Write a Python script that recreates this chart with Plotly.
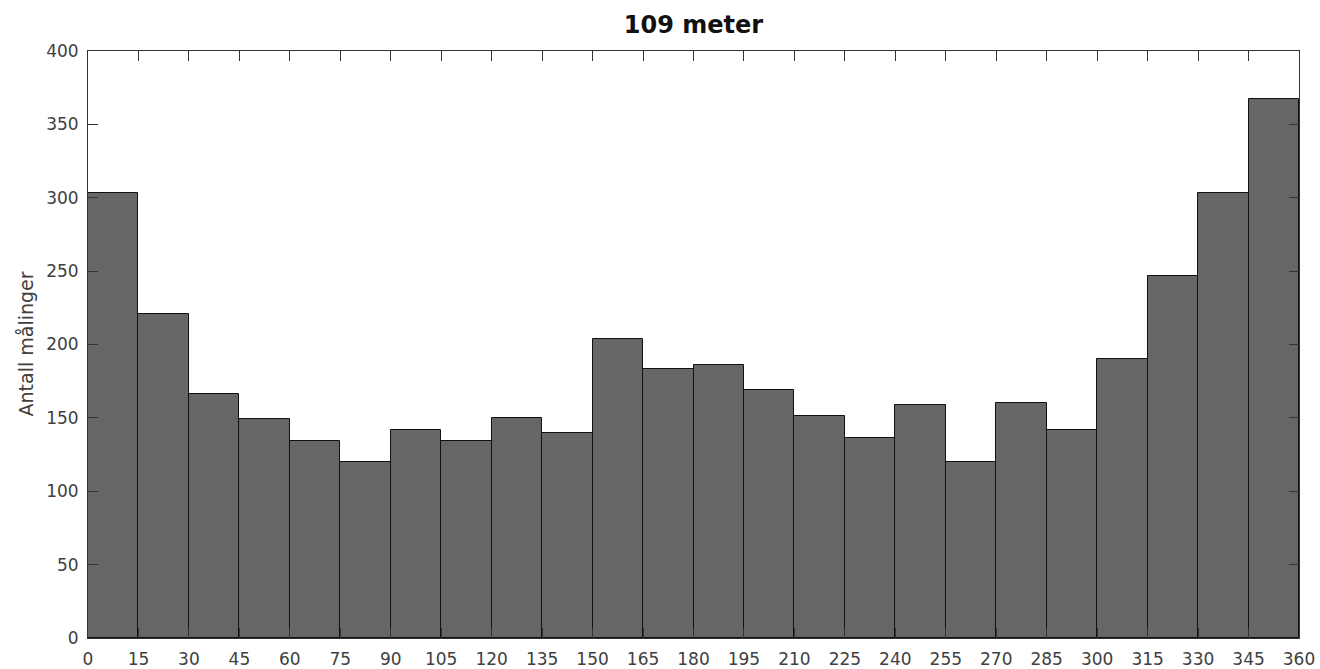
import plotly.graph_objects as go

# Data: wind direction bins (degrees) and number of measurements
bin_left = [0, 15, 30, 45, 60, 75, 90, 105, 120, 135, 150, 165,
            180, 195, 210, 225, 240, 255, 270, 285, 300, 315, 330, 345]
bin_width = 15
counts = [303, 221, 166, 149, 134, 120, 142, 134, 150, 140, 204, 183,
          186, 169, 151, 136, 159, 120, 160, 142, 190, 247, 303, 367]
x_ticks = list(range(0, 361, 15))
y_ticks = list(range(0, 401, 50))

title_text = "109 meter"
y_title = "Antall målinger"

fig = go.Figure()
fig.add_trace(go.Bar(
    x=bin_left,
    y=counts,
    width=bin_width,
    offset=0,
    marker=dict(color="#666666", line=dict(color="#111111", width=1)),
    hoverinfo="x+y",
))

axis_common = dict(
    showline=True, linecolor="#333333", linewidth=1, mirror="ticks",
    ticks="inside", ticklen=10, tickwidth=1, tickcolor="#333333",
    showgrid=False, zeroline=False, automargin=False,
    tickfont=dict(family="DejaVu Sans", size=17, color="#404040"),
)

fig.update_layout(
    width=1320, height=669,
    paper_bgcolor="white", plot_bgcolor="white",
    margin=dict(l=88, r=21, t=51, b=31, autoexpand=False),
    bargap=0,
    showlegend=False,
    title=dict(text="<b>" + title_text + "</b>", x=0.5, xref="paper",
               y=1 - 25 / 669, yref="container", yanchor="middle", xanchor="center",
               font=dict(family="DejaVu Sans", size=24, color="#111111")),
    xaxis=dict(range=[0, 360], tickvals=x_ticks, ticktext=[str(v) for v in x_ticks],
               ticklabelstandoff=6, **axis_common),
    yaxis=dict(range=[0, 400], tickvals=y_ticks, ticktext=[str(v) for v in y_ticks],
               ticklabelstandoff=5, **axis_common),
    annotations=[dict(text=y_title, textangle=-90, xref="paper", yref="paper",
                      x=(25 - 88) / 1211, y=0.5, xanchor="center", yanchor="middle",
                      showarrow=False,
                      font=dict(family="DejaVu Sans", size=19, color="#404040"))],
)

fig.write_html(
    "out.html",
    config={"displayModeBar": False},
    post_script="document.body.style.margin='0';document.body.style.overflow='hidden';",
)
